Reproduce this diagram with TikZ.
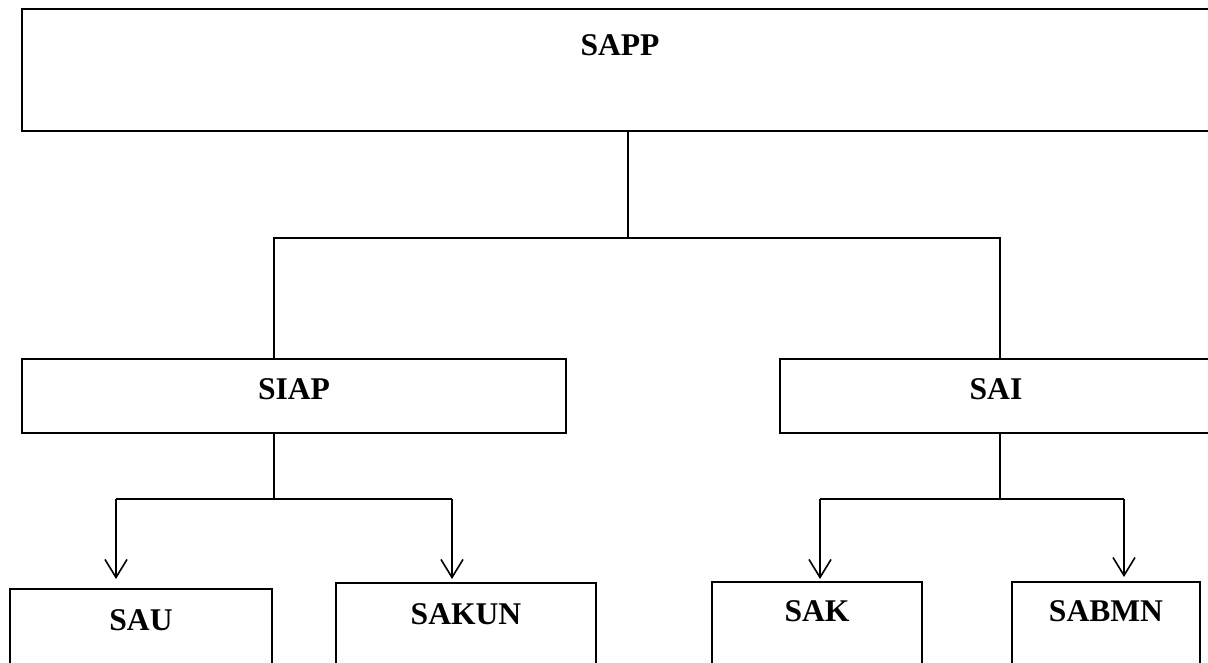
\documentclass[tikz,border=0pt]{standalone}
\usepackage{fontspec}
\setmainfont{Liberation Serif}
\usetikzlibrary{arrows.meta}

\tikzset{
  unit/.style={draw=black, line width=1.7pt, rectangle, anchor=north west,
               inner sep=0pt, outer sep=0pt},
  caption/.style={anchor=base, inner sep=0pt,
                  font=\bfseries\fontsize{31.6}{38}\selectfont},
  link/.style={draw=black, line width=1.6pt},
  feed/.style={link, -{Straight Barb[length=18pt, width=22pt]}}
}

\begin{document}
\begin{tikzpicture}[x=1pt, y=-1pt]
  \useasboundingbox (0,0) rectangle (1208,662);
  \clip (0,0) rectangle (1208,662);

  % organisational units
  \node[unit, minimum width=1200pt, minimum height=122pt] (sapp)  at (22,9)    {};
  \node[unit, minimum width=544pt,  minimum height=74pt]  (siap)  at (22,359)  {};
  \node[unit, minimum width=440pt,  minimum height=74pt]  (sai)   at (780,359) {};
  \node[unit, minimum width=262pt,  minimum height=100pt] (sau)   at (10,589)  {};
  \node[unit, minimum width=260pt,  minimum height=100pt] (sakun) at (336,583) {};
  \node[unit, minimum width=210pt,  minimum height=100pt] (sak)   at (712,582) {};
  \node[unit, minimum width=188pt,  minimum height=100pt] (sabmn) at (1012,582) {};

  % unit names
  \node[caption] (sapp-t)  at (620,55.5)  {SAPP};
  \node[caption] (siap-t)  at (294,399.5) {SIAP};
  \node[caption] (sai-t)   at (996,399.5) {SAI};
  \node[caption] (sau-t)   at (141,630)   {SAU};
  \node[caption] (sakun-t) at (466,624.5) {SAKUN};
  \node[caption] (sak-t)   at (817,621.5) {SAK};
  \node[caption] (sabmn-t) at (1106,621.5) {SABMN};

  % branch points
  \coordinate (top)  at (628,238);
  \coordinate (topl) at (274,238);
  \coordinate (topr) at (1000,238);
  \coordinate (lmid) at (274,499);
  \coordinate (ll)   at (116,499);
  \coordinate (lr)   at (452,499);
  \coordinate (rmid) at (1000,499);
  \coordinate (rl)   at (820,499);
  \coordinate (rr)   at (1124,499);

  % SAPP to SIAP / SAI
  \draw[link] (sapp.south -| top) -- (top);
  \draw[link] (siap.north -| topl) -- (topl) -- (topr) -- (sai.north -| topr);

  % SIAP to SAU / SAKUN
  \draw[link] (siap.south -| lmid) -- (lmid);
  \draw[link] (ll) -- (lr);
  \draw[feed, shorten >=10pt] (ll) -- (sau.north -| ll);
  \draw[feed, shorten >=4pt]  (lr) -- (sakun.north -| lr);

  % SAI to SAK / SABMN
  \draw[link] (sai.south -| rmid) -- (rmid);
  \draw[link] (rl) -- (rr);
  \draw[feed, shorten >=3pt] (rl) -- (sak.north -| rl);
  \draw[feed, shorten >=5pt] (rr) -- (sabmn.north -| rr);
\end{tikzpicture}
\end{document}
